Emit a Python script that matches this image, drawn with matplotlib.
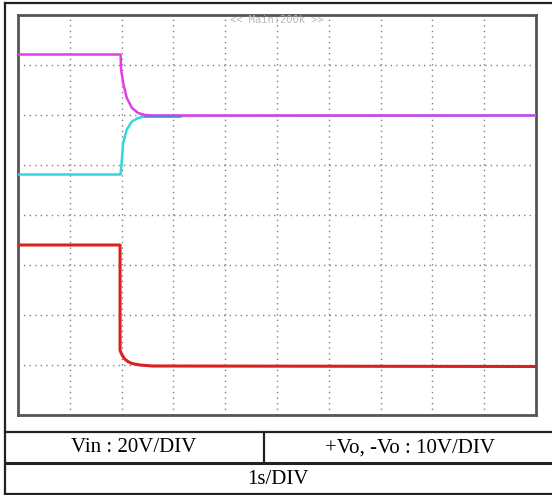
import matplotlib.pyplot as plt
from matplotlib.lines import Line2D

# scope traces, in divisions (x: 10 div of 1s, y: 8 div)
vin_t = [0.0, 1.97, 1.97, 1.99, 2.02, 2.06, 2.12, 2.20, 2.35, 2.60, 10.0]
vin_v = [3.40, 3.40, 1.30, 1.24, 1.18, 1.12, 1.07, 1.03, 1.00, 0.98, 0.97]

pvo_t = [0.0, 1.98, 1.99, 2.03, 2.10, 2.20, 2.32, 2.45, 2.60, 10.0]
pvo_v = [7.21, 7.21, 6.91, 6.64, 6.34, 6.14, 6.04, 6.00, 5.99, 5.99]

nvo_t = [0.0, 1.98, 2.00, 2.03, 2.10, 2.20, 2.32, 2.48, 10.0]
nvo_v = [4.81, 4.81, 5.04, 5.44, 5.71, 5.87, 5.94, 5.98, 5.99]

# where both output traces overlap the scope shows them blue
overlap_t = [2.45, 3.12]
overlap_v = [5.99, 5.99]

scale_labels = ['Vin : 20V/DIV', '+Vo, -Vo : 10V/DIV', '1s/DIV']
scope_banner = '<< Main:200k >>'

W, H = 552, 495
fig = plt.figure(figsize=(W / 100, H / 100), dpi=100)

# background layer in pixel coords for the frame / table
bg = fig.add_axes([0, 0, 1, 1])
bg.set_xlim(0, W)
bg.set_ylim(H, 0)
bg.axis('off')

frame_kw = dict(color='#222222', lw=1.6)
bg.add_line(Line2D([5, 5], [3, 494], **frame_kw))
bg.add_line(Line2D([5, W], [3, 3], **frame_kw))
bg.add_line(Line2D([5, W], [432, 432], **frame_kw))
bg.add_line(Line2D([5, W], [463, 463], color='#222222', lw=2.2))
bg.add_line(Line2D([5, W], [494, 494], **frame_kw))
bg.add_line(Line2D([264, 264], [432, 463], **frame_kw))

bg.text(134, 448, scale_labels[0], ha='center', va='center',
        fontsize=15, family='Liberation Serif')
bg.text(410, 448, scale_labels[1], ha='center', va='center',
        fontsize=15, family='Liberation Serif')
bg.text(278, 480, scale_labels[2], ha='center', va='center',
        fontsize=15, family='Liberation Serif')

# scope screen
ax = fig.add_axes([18 / W, (H - 415) / H, 518 / W, 400 / H])
ax.set_xlim(0, 10)
ax.set_ylim(0, 8)
ax.set_xticks(range(1, 10))
ax.set_yticks(range(1, 8))
ax.tick_params(length=0, labelbottom=False, labelleft=False)
ax.grid(True, color='#808080', linestyle=(0, (1, 3)), lw=1.0)
for s in ax.spines.values():
    s.set_color('#555555')
    s.set_linewidth(2)

ax.plot(nvo_t, nvo_v, color='#33d6dc', lw=1.8, zorder=3)
ax.plot(pvo_t, pvo_v, color='#e63ce6', lw=1.8, zorder=4)
ax.plot(overlap_t, overlap_v, color='#5a7cf0', lw=1.8, zorder=5)
ax.plot(vin_t, vin_v, color='#dc2020', lw=2.2, zorder=4)

ax.text(5.0, 7.9, scope_banner, ha='center', va='center',
        fontsize=7.5, family='DejaVu Sans Mono', color='#b8b8b8')

fig.savefig('out.png', dpi=100)
